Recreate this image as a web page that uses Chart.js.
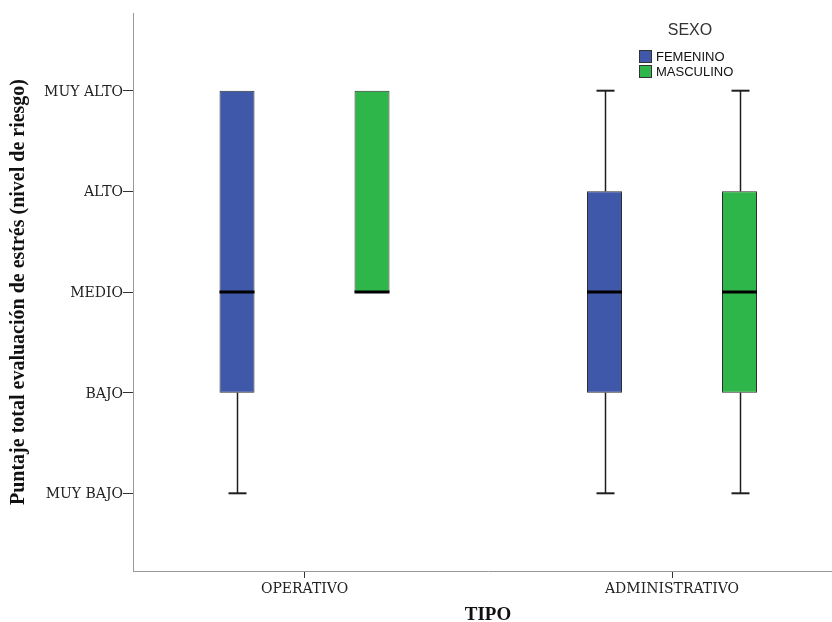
<!DOCTYPE html>
<html>
<head>
<meta charset="utf-8">
<script src="https://cdn.jsdelivr.net/npm/chart.js@4.4.1/dist/chart.umd.min.js"></script>
<style>
  html, body { margin: 0; padding: 0; background: #ffffff; overflow: hidden; }
  #marco { width: 832px; height: 622px; overflow: hidden; }
  canvas { display: block; }
</style>
</head>
<body>
<div id="marco"><canvas id="grafico" width="843" height="622"></canvas></div>
<script>
// Categorías del eje X y grupos (SEXO)
const tipos = ['OPERATIVO', 'ADMINISTRATIVO'];
const sexos = ['FEMENINO', 'MASCULINO'];
// Niveles de riesgo: 1 = MUY BAJO ... 5 = MUY ALTO
const niveles = ['MUY BAJO', 'BAJO', 'MEDIO', 'ALTO', 'MUY ALTO'];

// Resumen de cinco números por TIPO (OPERATIVO, ADMINISTRATIVO)
const femMin     = [1, 1];
const femQ1      = [2, 2];
const femMediana = [3, 3];
const femQ3      = [5, 4];
const femMax     = [5, 5];

const mascMin     = [3, 1];
const mascQ1      = [3, 2];
const mascMediana = [3, 3];
const mascQ3      = [5, 4];
const mascMax     = [5, 5];

const colores = ['#3f58aa', '#2fb64a'];

function serie(label, color, min, q1, med, q3, max) {
  return {
    label: label,
    backgroundColor: color,
    borderColor: '#2e2e2e',
    borderWidth: 1,
    borderSkipped: false,
    categoryPercentage: 270 / 367.5,
    barPercentage: 35 / 135,
    data: tipos.map((t, i) => ({ x: i, y: [q1[i], q3[i]] })),
    resumen: tipos.map((t, i) => ({ min: min[i], med: med[i], max: max[i], q1: q1[i], q3: q3[i] }))
  };
}

const datasets = [
  serie(sexos[0], colores[0], femMin, femQ1, femMediana, femQ3, femMax),
  serie(sexos[1], colores[1], mascMin, mascQ1, mascMediana, mascQ3, mascMax)
];

// Bigotes y medianas de cada caja
const bigotes = {
  id: 'bigotes',
  afterDatasetsDraw(chart) {
    const ctx = chart.ctx;
    const yS = chart.scales.y;
    ctx.save();
    chart.data.datasets.forEach((ds, d) => {
      const meta = chart.getDatasetMeta(d);
      meta.data.forEach((bar, i) => {
        const r = ds.resumen[i];
        const x = Math.round(bar.x) + 0.5;
        const half = bar.width / 2;
        const yQ1 = yS.getPixelForValue(r.q1);
        const yQ3 = yS.getPixelForValue(r.q3);
        const yMin = yS.getPixelForValue(r.min);
        const yMax = yS.getPixelForValue(r.max);
        const yMed = yS.getPixelForValue(r.med);
        ctx.strokeStyle = '#1e1e1e';
        if (r.max > r.q3) {
          ctx.lineWidth = 1.5;
          ctx.beginPath(); ctx.moveTo(x, yQ3); ctx.lineTo(x, yMax); ctx.stroke();
          ctx.lineWidth = 2;
          ctx.beginPath(); ctx.moveTo(x - 9, yMax); ctx.lineTo(x + 9, yMax); ctx.stroke();
        }
        if (r.min < r.q1) {
          ctx.lineWidth = 1.5;
          ctx.beginPath(); ctx.moveTo(x, yQ1); ctx.lineTo(x, yMin); ctx.stroke();
          ctx.lineWidth = 2;
          ctx.beginPath(); ctx.moveTo(x - 9, yMin); ctx.lineTo(x + 9, yMin); ctx.stroke();
        }
        ctx.strokeStyle = '#000000';
        ctx.lineWidth = 3;
        ctx.beginPath(); ctx.moveTo(bar.x - half, yMed); ctx.lineTo(bar.x + half, yMed); ctx.stroke();
      });
    });
    ctx.restore();
  }
};

// Leyenda "SEXO" apilada en la esquina superior derecha
const leyendaSexo = {
  id: 'leyendaSexo',
  afterDraw(chart) {
    const ctx = chart.ctx;
    ctx.save();
    ctx.fillStyle = '#333333';
    ctx.font = '16px "Liberation Sans", Arial, sans-serif';
    ctx.textAlign = 'center';
    ctx.textBaseline = 'middle';
    ctx.fillText('SEXO', 690, 31);
    ctx.font = '13px "Liberation Sans", Arial, sans-serif';
    ctx.textAlign = 'left';
    chart.data.datasets.forEach((ds, i) => {
      const y = 50 + i * 15;
      ctx.fillStyle = ds.backgroundColor;
      ctx.fillRect(639, y, 13, 13);
      ctx.strokeStyle = '#333333';
      ctx.lineWidth = 1;
      ctx.strokeRect(639.5, y + 0.5, 12, 12);
      ctx.fillStyle = '#111111';
      ctx.fillText(ds.label, 656, y + 7);
    });
    ctx.restore();
  }
};

new Chart(document.getElementById('grafico'), {
  type: 'bar',
  data: { datasets: datasets },
  plugins: [bigotes, leyendaSexo],
  options: {
    responsive: false,
    animation: false,
    devicePixelRatio: 1,
    layout: { padding: { top: 13, left: 0, right: 0, bottom: 0 } },
    plugins: {
      legend: { display: false },
      tooltip: { enabled: false }
    },
    scales: {
      x: {
        type: 'linear',
        offset: false,
        min: -0.4667,
        max: 1.4653,
        afterBuildTicks: (s) => { s.ticks = tipos.map((t, i) => ({ value: i })); },
        afterFit: (s) => { s.height = 51; },
        ticks: {
          callback: (v) => tipos[v],
          font: { family: 'DejaVu Serif', size: 14 },
          color: '#222222',
          padding: 3,
          maxRotation: 0,
          autoSkip: false
        },
        grid: { offset: false, drawOnChartArea: false, drawTicks: true, tickLength: 7, tickColor: '#333333' },
        border: { color: '#999999', width: 1 },
        title: {
          display: true,
          text: 'TIPO',
          font: { family: 'Liberation Serif', size: 19, weight: 'bold', lineHeight: 1 },
          color: '#111111',
          padding: { top: 0, bottom: -3 }
        }
      },
      y: {
        min: 0.228,
        max: 5.772,
        afterBuildTicks: (s) => { s.ticks = niveles.map((n, i) => ({ value: i + 1 })); },
        afterFit: (s) => { s.width = 133; },
        ticks: {
          callback: (v) => niveles[v - 1],
          font: { family: 'DejaVu Serif', size: 14 },
          color: '#222222',
          padding: 0,
          labelOffset: 1.5
        },
        grid: { drawOnChartArea: false, drawTicks: true, tickLength: 10, tickColor: '#333333' },
        border: { color: '#999999', width: 1 },
        title: {
          display: true,
          text: 'Puntaje total evaluación de estrés (nivel de riesgo)',
          font: { family: 'Liberation Serif', size: 20, weight: 'bold' },
          color: '#111111',
          padding: { top: 7, bottom: 0 }
        }
      }
    }
  }
});
</script>
</body>
</html>
